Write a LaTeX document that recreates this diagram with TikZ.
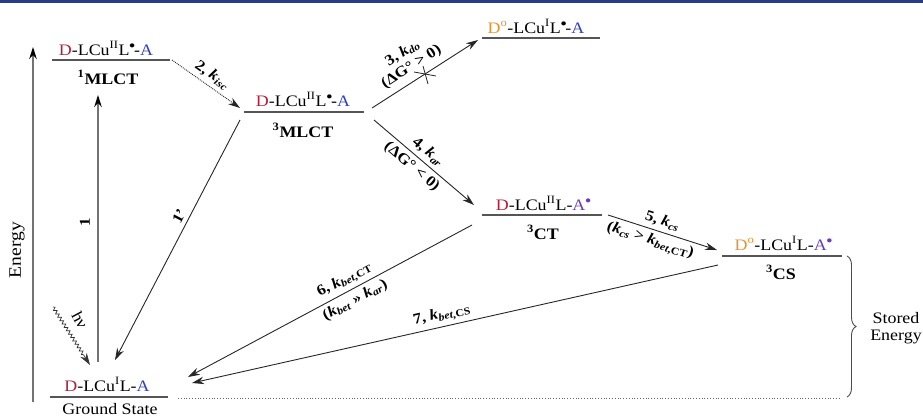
\documentclass[tikz,border=0pt]{standalone}
\usepackage{fontspec}
\setmainfont[FakeStretch=1.12]{Liberation Serif}
\usetikzlibrary{arrows.meta,calc,decorations.pathmorphing,decorations.pathreplacing}
\definecolor{topblue}{HTML}{283A8A}
\definecolor{cDred}{HTML}{B0203A}
\definecolor{cAblue}{HTML}{2E3FC0}
\definecolor{cApur}{HTML}{6A3DB8}
\definecolor{cDor}{HTML}{E8922E}
\definecolor{lvlgray}{HTML}{555555}
\newcommand{\Dred}{\textcolor{cDred}{D}}
\newcommand{\Dorg}{\textcolor{cDor}{D\textsuperscript{o}}}
\newcommand{\Ablu}{\textcolor{cAblue}{A}}
\newcommand{\raddot}{\kern-0.5pt\raisebox{3.8pt}{\fontsize{17}{17}\selectfont •}\kern-1.5pt}
\newcommand{\Apur}{\textcolor{cApur}{A\raddot}}
\newcommand{\kk}[1]{\textit{k}\textsubscript{#1}}
\begin{document}
\begin{tikzpicture}[x=1pt,y=-1pt,
  lbl/.style={font=\fontsize{16}{18.5}\selectfont, inner sep=0pt},
  statelbl/.style={font=\fontsize{16}{18.5}\selectfont\bfseries, inner sep=0pt},
  ratelbl/.style={font=\fontsize{15}{16.5}\selectfont\bfseries, inner sep=4pt},
  level/.style={draw=lvlgray, line width=1.4pt},
  conn/.style={draw=black!85, line width=0.9pt, -{Stealth[length=12pt,width=7.5pt]}},
  grayconn/.style={draw=black!55, line width=1.4pt, -{Stealth[length=12pt,width=7.5pt,fill=black,color=black]}}
]
\useasboundingbox (0,0) rectangle (923,416);
\fill[topblue] (0,0) rectangle (923,2.5);

% Energy axis
\coordinate (e0) at (33,402);
\coordinate (e1) at (33,47);
\draw[grayconn] (e0) -- (e1);
\node[font=\fontsize{17.5}{19}\selectfont, inner sep=0pt, rotate=90] (energy) at (17,250) {Energy};

% 1MLCT
\coordinate (s1L) at (52,60);
\coordinate (s1R) at (170,60);
\draw[level] (s1L) -- (s1R);
\node[lbl, anchor=base] (s1t) at (106,55) {\Dred-LCu\textsuperscript{II}L\raddot-\Ablu};
\node[statelbl, anchor=base] (s1b) at (108,84) {\textsuperscript{1}MLCT};

% 3MLCT
\coordinate (s3L) at (244,112);
\coordinate (s3R) at (364,112);
\draw[level] (s3L) -- (s3R);
\node[lbl, anchor=base] (s3t) at (303,106) {\Dred-LCu\textsuperscript{II}L\raddot-\Ablu};
\node[statelbl, anchor=base] (s3b) at (303,137) {\textsuperscript{3}MLCT};

% top right (do)
\coordinate (sdL) at (482,38);
\coordinate (sdR) at (600,38);
\draw[level] (sdL) -- (sdR);
\node[lbl, anchor=base] (sdt) at (536,33) {\Dorg-LCu\textsuperscript{I}L\raddot-\Ablu};

% 3CT
\coordinate (sctL) at (482,215);
\coordinate (sctR) at (602,215);
\draw[level] (sctL) -- (sctR);
\node[lbl, anchor=base] (sctt) at (543,210) {\Dred-LCu\textsuperscript{II}L-\Apur};
\node[statelbl, anchor=base] (sctb) at (543,239) {\textsuperscript{3}CT};

% 3CS
\coordinate (scsL) at (722,256);
\coordinate (scsR) at (842,256);
\draw[level] (scsL) -- (scsR);
\node[lbl, anchor=base] (scst) at (783,250) {\Dorg-LCu\textsuperscript{I}L-\Apur};
\node[statelbl, anchor=base] (scsb) at (781,279) {\textsuperscript{3}CS};

% Ground state
\coordinate (gL) at (50,397);
\coordinate (gR) at (168,397);
\draw[level] (gL) -- (gR);
\node[lbl, anchor=base] (gt) at (107,391) {\Dred-LCu\textsuperscript{I}L-\Ablu};
\node[lbl, anchor=base] (gb) at (110,414) {Ground State};

% dotted reference line
\coordinate (dL) at (178,398);
\coordinate (dR) at (840,398);
\draw[black!60, line width=0.8pt, dotted] (dL) -- (dR);

% brace
\coordinate (bT) at (847,256);
\coordinate (bB) at (847,397);
\draw[black!70, line width=0.9pt, decorate, decoration={brace, amplitude=9pt}] (bT) -- (bB);
\node[lbl, align=center] (stored) at (896,328) {Stored\\[-1pt]Energy};

% arrow 1
\coordinate (a1s) at (98,362);
\coordinate (a1e) at (98,95);
\draw[grayconn] (a1s) -- (a1e);
\node[ratelbl, rotate=90, inner sep=0pt] (l1) at (85,222) {1};

% arrow 2 (dotted)
\coordinate (a2s) at (172,60);
\coordinate (a2e) at (240,108);
\draw[conn, densely dotted] (a2s) -- node[ratelbl, above, sloped, pos=0.5] (l2) {2, \kk{\textit{isc}}} (a2e);

% arrow 3 (forbidden)
\coordinate (a3s) at (372,108);
\coordinate (a3e) at (478,40);
\draw[conn] (a3s) -- node[ratelbl, above, sloped, pos=0.44, align=center, inner sep=6pt] (l3) {3, \kk{\textit{do}}\\(ΔG° > 0)} (a3e);
\coordinate (x3) at ($(a3s)!0.5!(a3e)$);
\draw[black!85, line width=0.8pt] ($(x3)+(-2,-8)$) -- ($(x3)+(3,10)$);
\draw[black!85, line width=0.8pt] ($(x3)+(-11,-2)$) -- ($(x3)+(11,2)$);

% arrow 4
\coordinate (a4s) at (374,120);
\coordinate (a4e) at (474,205);
\draw[conn] (a4s) -- node[ratelbl, above, sloped, pos=0.47] (l4a) {4, \kk{\textit{ar}}}
                     node[ratelbl, below, sloped, pos=0.45] (l4b) {(ΔG° < 0)} (a4e);

% arrow 5
\coordinate (a5s) at (608,215);
\coordinate (a5e) at (717,250);
\draw[conn] (a5s) -- node[ratelbl, above, sloped, pos=0.47] (l5a) {5, \kk{\textit{cs}}}
                     node[ratelbl, below, sloped, pos=0.42] (l5b) {(\kk{\textit{cs}} > \kk{\textit{bet},CT})} (a5e);

% arrow 1'
\coordinate (a1ps) at (240,120);
\coordinate (a1pe) at (115,360);
\draw[conn] (a1ps) -- node[ratelbl, above, sloped, pos=0.42] (l1p) {1'} (a1pe);

% arrow 6
\coordinate (a6s) at (472,225);
\coordinate (a6e) at (188,377);
\draw[conn] (a6s) -- node[ratelbl, above, sloped, pos=0.43] (l6a) {6, \kk{\textit{bet},CT}}
                     node[ratelbl, below, sloped, pos=0.43] (l6b) {(\kk{\textit{bet}} >> \kk{\textit{ar}})} (a6e);

% arrow 7
\coordinate (a7s) at (718,265);
\coordinate (a7e) at (192,383);
\draw[conn] (a7s) -- node[ratelbl, above, sloped, pos=0.52] (l7) {7, \kk{\textit{bet},CS}} (a7e);

% h nu
\coordinate (hs) at (53,307);
\coordinate (he) at (90,365);
\draw[black!80, line width=0.7pt, -{Stealth[length=12pt,width=7.5pt]},
  decorate, decoration={snake, amplitude=1.6pt, segment length=4pt, post length=12pt}] (hs) -- (he);
\node[lbl, rotate=-62] (hnu) at (80,320) {hν};
\end{tikzpicture}
\end{document}
